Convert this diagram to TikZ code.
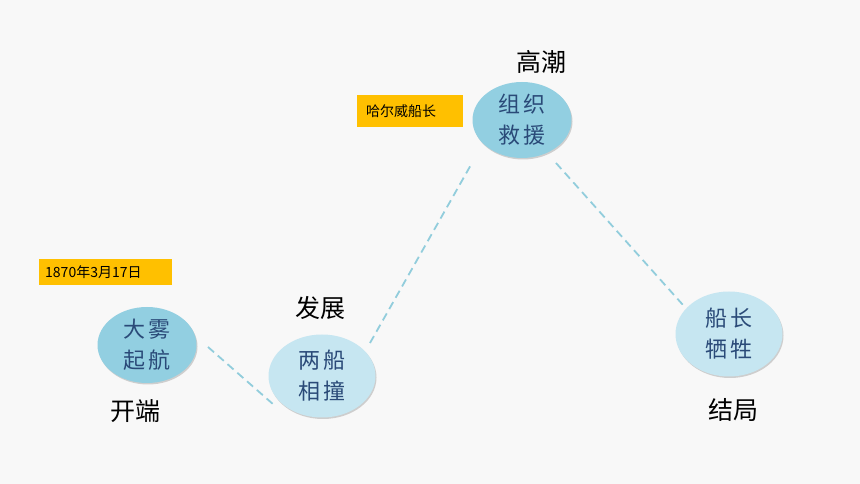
\documentclass[tikz,border=0pt]{standalone}
\usepackage{fontspec}
\setmainfont{Liberation Sans}
\newfontfamily\cjk{Noto Sans CJK SC}
\usetikzlibrary{shapes.geometric,shadows}
\definecolor{bgc}{HTML}{F8F8F8}
\definecolor{darkfill}{HTML}{92CFE1}
\definecolor{lightfill}{HTML}{C6E6F1}
\definecolor{txtblue}{HTML}{2A4A78}
\definecolor{dashc}{HTML}{92CDDC}
\definecolor{tagc}{HTML}{FFC000}
\tikzset{
  evt/.style={ellipse, draw=none, inner sep=0pt, font=\cjk\fontsize{22}{31}\selectfont,
    text=txtblue, align=center, drop shadow={shadow xshift=1pt, shadow yshift=-1.5pt, opacity=0.35}},
  darkev/.style={evt, fill=darkfill},
  lightev/.style={evt, fill=lightfill},
  stage/.style={font=\cjk\fontsize{25}{28}\selectfont, text=black},
  tag/.style={fill=tagc, inner sep=0pt, font=\cjk\fontsize{14}{16}\selectfont, text=black, anchor=west, align=left},
  link/.style={dashc, line width=1.8pt, dash pattern=on 8pt off 5pt}
}
\begin{document}
\begin{tikzpicture}[x=1pt,y=1pt]
\fill[bgc] (0,0) rectangle (860,484);
\useasboundingbox (0,0) rectangle (860,484);
% events
\node[darkev, minimum width=99pt, minimum height=76pt] (e1) at (147,139) {大\,雾\\起\,航};
\node[lightev, minimum width=107pt, minimum height=83pt] (e2) at (322,108) {两\,船\\相\,撞};
\node[darkev, minimum width=99pt, minimum height=76pt] (e3) at (522,364) {组\,织\\救\,援};
\node[lightev, minimum width=107pt, minimum height=85pt] (e4) at (729,150) {船\,长\\牺\,牲};
% stage labels
\node[stage] (s1) at (135,73) {开端};
\node[stage] (s2) at (320,176) {发展};
\node[stage] (s3) at (541,422) {高潮};
\node[stage] (s4) at (733,74) {结局};
% tags
\node[tag, minimum width=133pt, minimum height=26pt, text width=125pt] (t1) at (39,212) {\hspace*{2pt}1870年3月17日};
\node[tag, minimum width=106pt, minimum height=32pt, text width=100pt] (t2) at (357,373) {\hspace*{6pt}哈尔威船长};
% connectors
\coordinate (a1) at (208,137);
\coordinate (a2) at (274,79);
\coordinate (b1) at (370,141);
\coordinate (b2) at (472,321);
\coordinate (c1) at (556,321);
\coordinate (c2) at (683,179);
\draw[link] (a1) -- (a2);
\draw[link] (b1) -- (b2);
\draw[link] (c1) -- (c2);
\end{tikzpicture}
\end{document}
